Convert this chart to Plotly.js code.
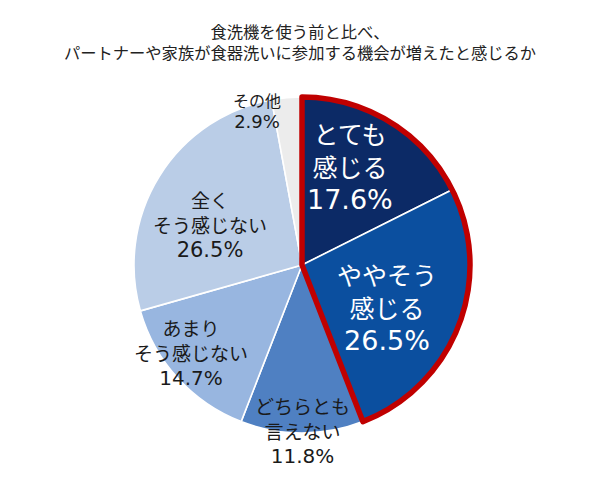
<!DOCTYPE html>
<html>
<head>
<meta charset="utf-8">
<script src="https://cdn.plot.ly/plotly-3.0.1.min.js"></script>
<style>html,body{margin:0;padding:0;background:#fff}#chart{width:600px;height:477px}</style>
</head>
<body>
<div id="chart"></div>
<script>
// ---- data ----
const categories = ['とても<br>感じる', 'ややそう<br>感じる', 'どちらとも<br>言えない', 'あまり<br>そう感じない', '全く<br>そう感じない', 'その他'];
const values = [17.6, 26.5, 11.8, 14.7, 26.5, 2.9];
const valueLabels = ['17.6%', '26.5%', '11.8%', '14.7%', '26.5%', '2.9%'];
const highlightGroup = [0, 1]; // slices outlined in red

// ---- style ----
const colors = ['#0c2a66', '#0b4f9f', '#4f80c2', '#98b6e0', '#bacde7', '#ececec'];
const textColors = ['#ffffff', '#ffffff', '#1a1a1a', '#1a1a1a', '#1a1a1a', '#1a1a1a'];
const textSizes = [25, 25, 19, 19, 19, 16];
const numSizes = [27, 27, 20, 20, 21, 18];
const labelRadius = [0.66, 0.56, 0.98, 0.84, 0.60, 0.96];
const labelAngleNudge = [-6, 5, 0, 4, -8, -11];
const FONT = '"Noto Sans CJK JP", "Noto Sans", sans-serif';

const W = 600, H = 477;
const cx = 302, cy = 265, R = 168;
const dom = {x: [(cx - R) / W, (cx + R) / W], y: [(H - cy - R) / H, (H - cy + R) / H]};

const total = values.reduce((a, b) => a + b, 0);
const hiSum = highlightGroup.reduce((s, i) => s + values[i], 0);

const pieMain = {
  type: 'pie', values: values, labels: categories, sort: false, direction: 'clockwise', rotation: 0,
  marker: {colors: colors, line: {color: '#ffffff', width: 1.6}},
  textinfo: 'none', hoverinfo: 'none', showlegend: false, domain: dom
};
const pieOutline = {
  type: 'pie', values: [hiSum, total - hiSum], labels: ['hi', 'rest'], sort: false, direction: 'clockwise', rotation: 0,
  marker: {colors: ['rgba(0,0,0,0)', 'rgba(0,0,0,0)'], line: {color: ['#c00000', 'rgba(0,0,0,0)'], width: [5.5, 0]}},
  textinfo: 'none', hoverinfo: 'none', showlegend: false, domain: dom
};

const annotations = [];
let cum = 0;
values.forEach((v, i) => {
  const mid = (cum + v / 2) / total * 360 + labelAngleNudge[i];
  cum += v;
  const a = mid * Math.PI / 180;
  const px = cx + labelRadius[i] * R * Math.sin(a);
  const py = cy - labelRadius[i] * R * Math.cos(a);
  annotations.push({
    xref: 'paper', yref: 'paper', x: px / W, y: (H - py) / H,
    text: categories[i] + '<br><span style="font-family:DejaVu Sans;font-size:' + numSizes[i] + 'px">' + valueLabels[i] + '</span>',
    showarrow: false,
    xanchor: 'center', yanchor: 'middle', align: 'center',
    font: {family: FONT, size: textSizes[i], color: textColors[i]}
  });
});

const layout = {
  width: W, height: H,
  margin: {l: 0, r: 0, t: 0, b: 0},
  paper_bgcolor: '#ffffff',
  title: {
    text: '食洗機を使う前と比べ、<br>パートナーや家族が食器洗いに参加する機会が増えたと感じるか',
    font: {family: FONT, size: 16.3, color: '#222222'},
    x: 0.5, xanchor: 'center', xref: 'container', yref: 'container', y: 1 - 38 / 477, yanchor: 'top'
  },
  annotations: annotations
};

Plotly.newPlot('chart', [pieMain, pieOutline], layout, {displayModeBar: false, staticPlot: true});
</script>
</body>
</html>
